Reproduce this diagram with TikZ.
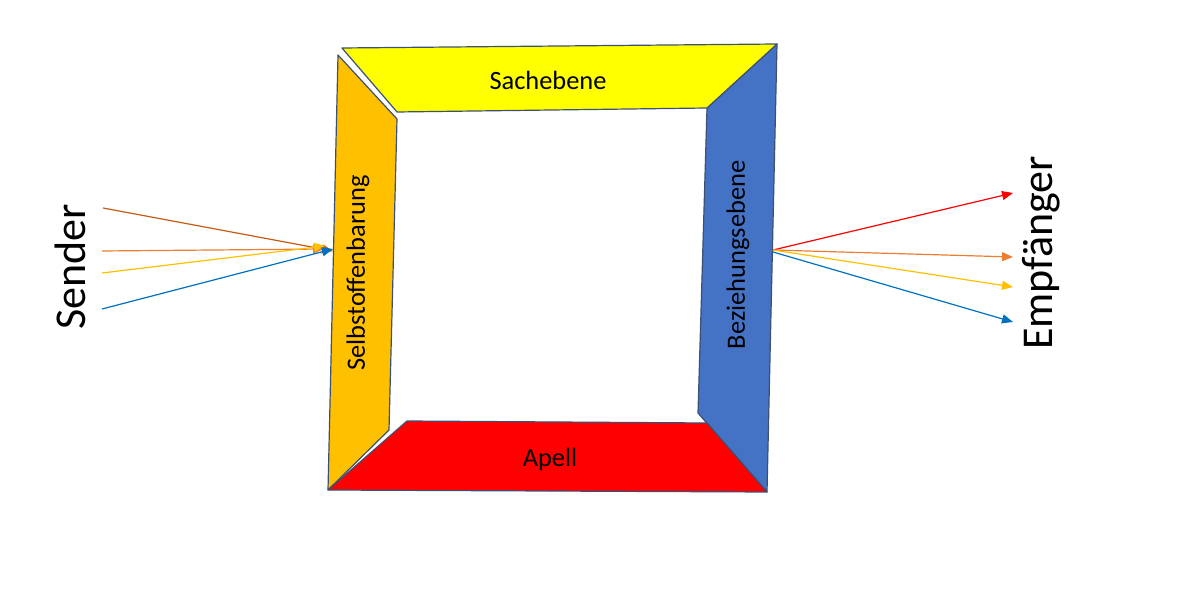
\documentclass[tikz,border=0pt]{standalone}
\usepackage{fontspec}
\setmainfont{Carlito}
\usetikzlibrary{positioning, arrows.meta}
\definecolor{sachyellow}{HTML}{FFFF00}
\definecolor{selborange}{HTML}{FFC000}
\definecolor{bezblue}{HTML}{4472C4}
\definecolor{apellred}{HTML}{FF0000}
\definecolor{edgegray}{HTML}{3C5074}
\definecolor{arrbrown}{HTML}{C55A11}
\definecolor{arrorange}{HTML}{ED7D31}
\definecolor{arrblue}{HTML}{0070C0}

\begin{document}
\begin{tikzpicture}[
      x=0.5pt, y=-0.5pt,
      panel/.style={draw=edgegray, line width=0.6pt, line join=round},
      label/.style={font=\fontsize{13.2}{15}\selectfont},
      side/.style={font=\fontsize{22}{26}\selectfont, rotate=90},
      msg/.style={line width=0.6pt, -{Triangle[length=5.5pt, width=4.5pt]}},
    ]
    \useasboundingbox (0,0) rectangle (1177,592);

    % the four sides of the message
    \draw[panel, fill=bezblue] (777,44) -- (767,492) -- (698,413) -- (707,108) -- cycle;
    \draw[panel, fill=selborange] (338,55) -- (397,119) -- (389,430) -- (328,490) -- cycle;
    \draw[panel, fill=sachyellow] (342,48) -- (777,44) -- (707,108) -- (397,112) -- cycle;
    \draw[panel, fill=apellred] (328,490) -- (407,421) -- (707,423) -- (767,492) -- cycle;

    \node[label] (sach) at (548,80) {Sachebene};
    \node[label] (apell) at (550,459) {Apell};
    \node[label, rotate=90] (selbst) at (358,273) {Selbstoffenbarung};
    \node[label, rotate=90] (bez) at (738,255) {Beziehungsebene};

    \node[side] (sender) at (70,267) {Sender};
    \node[side] (empf) at (1041,253) {Empfänger};

    % incoming arrows
    \coordinate (in1) at (103,208);
    \coordinate (in2) at (102,251);
    \coordinate (in3) at (102,273);
    \coordinate (in4) at (102,309);
    \coordinate (hit) at (333,251);
    \draw[msg, arrbrown] (in1) -- (hit);
    \draw[msg, arrorange] (in2) -- ([xshift=-4.5pt, yshift=1pt]hit);
    \draw[msg, selborange] (in3) -- ([xshift=-4pt, yshift=2.5pt]hit);
    \draw[msg, arrblue] (in4) -- ([yshift=1pt]hit);

    % outgoing arrows
    \coordinate (src) at (773,250);
    \coordinate (out1) at (1013,193);
    \coordinate (out2) at (1013,257);
    \coordinate (out3) at (1013,287);
    \coordinate (out4) at (1013,322);
    \draw[msg, apellred] (src) -- (out1);
    \draw[msg, arrorange] (src) -- (out2);
    \draw[msg, selborange] (src) -- (out3);
    \draw[msg, arrblue] ([yshift=-1pt]src) -- (out4);
  \end{tikzpicture}
\end{document}
